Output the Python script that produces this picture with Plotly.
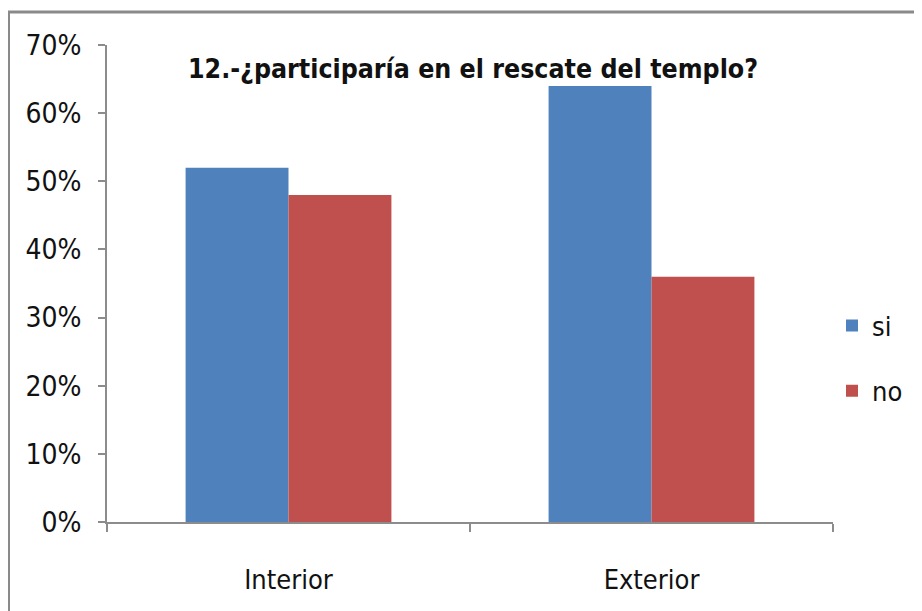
import plotly.graph_objects as go

categories = ["Interior", "Exterior"]
si_values = [0.52, 0.64]
no_values = [0.48, 0.36]
series_names = ["si", "no"]
title_text = "12.-¿participaría en el rescate del templo?"

# page body offsets the figure by 8px; work in screen pixels and convert
OFF = 8
W, H = 914, 603
L, T = 107 - OFF, 45 - OFF
pw, ph = 726, 477
R, B = W - L - pw, H - T - ph

def sx(px):  # screen x -> paper x
    return (px - OFF - L) / pw

def sy(py):  # screen y -> paper y
    return (T + ph - (py - OFF)) / ph

fig = go.Figure()
fig.add_trace(go.Bar(x=categories, y=si_values, name=series_names[0],
                     marker=dict(color="#4F81BD", line=dict(width=0)), legendgroup="a"))
fig.add_trace(go.Bar(x=categories, y=no_values, name=series_names[1],
                     marker=dict(color="#C0504D", line=dict(width=0)), legendgroup="b"))

font_family = "'Liberation Sans Narrow', 'DejaVu Sans Condensed', Lato, sans-serif"

fig.update_layout(
    width=W, height=H,
    margin=dict(l=L, r=R, t=T, b=B, autoexpand=False),
    paper_bgcolor="white", plot_bgcolor="white",
    barmode="group", bargap=0.433, bargroupgap=0,
    font=dict(family=font_family, size=26, color="#111111"),
    title=dict(text="<b>" + title_text + "</b>", x=sx(473), xref="paper",
               xanchor="center", y=1 - 61 / H, yref="container", yanchor="middle",
               font=dict(size=26.5, color="#111111", family=font_family)),
    legend=dict(x=sx(832), xanchor="left", y=sy(358.5), yanchor="middle",
                font=dict(size=27), tracegroupgap=27, bgcolor="rgba(0,0,0,0)",
                itemwidth=30),
    showlegend=True,
)
fig.update_xaxes(showline=True, linecolor="#8c8c8c", linewidth=2,
                 ticks="outside", tickson="boundaries", ticklen=8, tickcolor="#8c8c8c", tickwidth=2,
                 ticklabelstandoff=33, showgrid=False, zeroline=False,
                 tickfont=dict(size=27))
fig.update_yaxes(range=[0, 0.7], dtick=0.1, tickformat=".0%", showline=True,
                 linecolor="#8c8c8c", linewidth=2, ticks="outside", ticklen=7,
                 tickcolor="#8c8c8c", tickwidth=2, showgrid=False, zeroline=False,
                 ticklabelstandoff=11, tickfont=dict(size=28))

# outer chart border (top and left edges visible)
fig.add_shape(type="rect", xref="paper", yref="paper",
              x0=sx(8.5), x1=sx(960),
              y0=sy(660), y1=sy(12),
              line=dict(color="#8a8a8a", width=3), layer="below")

fig.write_html("out.html")
